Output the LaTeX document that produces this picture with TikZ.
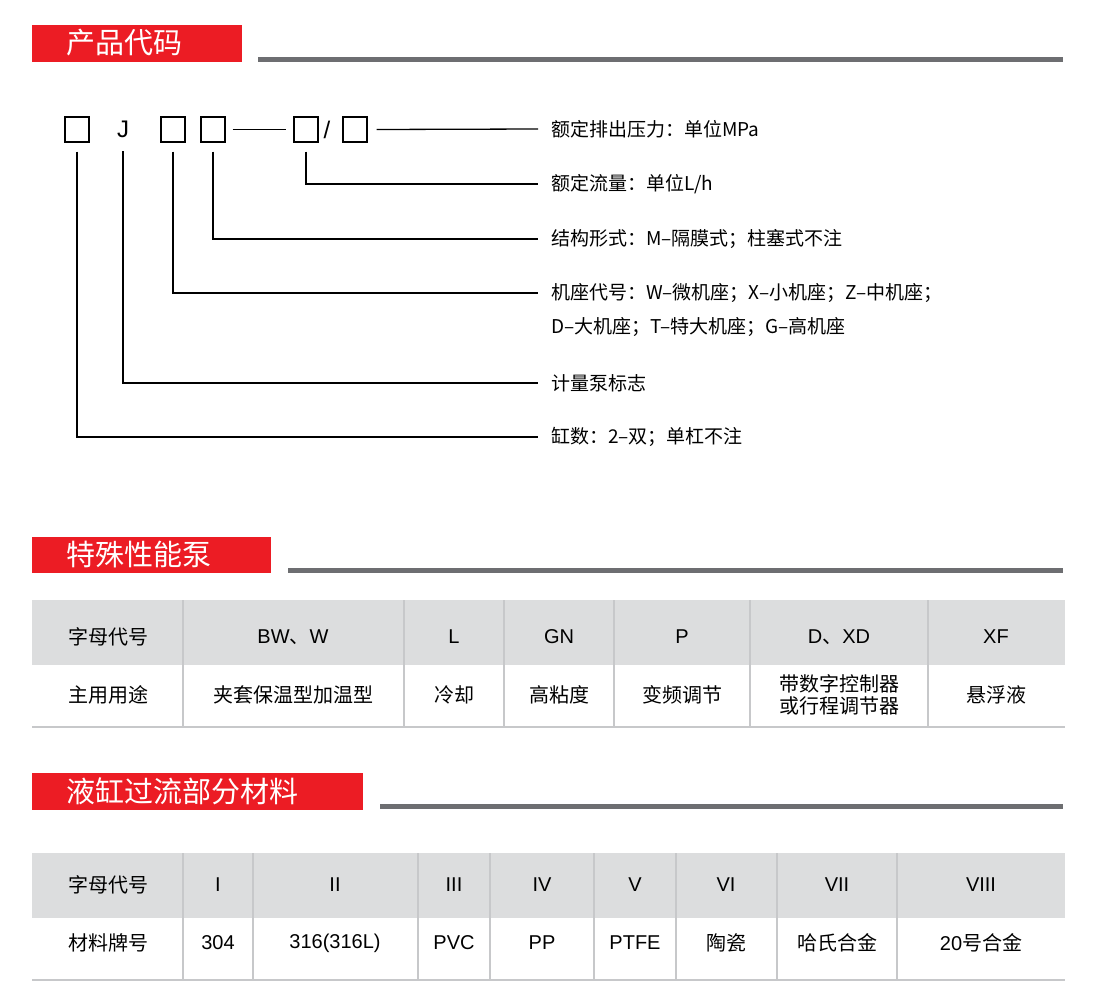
\documentclass[tikz,border=0pt]{standalone}
\usepackage{fontspec}
\setmainfont{Noto Sans CJK SC}
\newfontfamily\latn{Liberation Sans}
\definecolor{hred}{HTML}{EC1C24}
\definecolor{hline}{HTML}{6D6E71}
\definecolor{tgray}{HTML}{DCDDDE}
\definecolor{tline}{HTML}{C7C8CA}
\begin{document}
\begin{tikzpicture}[x=1pt,y=-1pt,
  title/.style={anchor=west,text=white,font=\fontsize{29}{30}\selectfont,inner sep=0},
  lab/.style={anchor=west,inner xsep=13pt,inner ysep=0,font=\fontsize{19}{20}\selectfont},
  cbox/.style={draw,line width=1.3pt,minimum width=24pt,minimum height=25pt,inner sep=0},
  conn/.style={line width=1.3pt},
  cell/.style={font=\fontsize{20}{22}\selectfont,align=center,inner sep=0}]
\useasboundingbox (0,0) rectangle (1105,993);
% headers
\fill[hred] (32,25) rectangle (242,62);
\node[title] (t1) at (66,43) {产品代码};
\fill[hline] (258,56.5) rectangle (1063,61.5);
\fill[hred] (32,537) rectangle (271,573);
\node[title] (t2) at (66,555) {特殊性能泵};
\fill[hline] (288,567.5) rectangle (1063,572.5);
\fill[hred] (32,773) rectangle (363,810);
\node[title] (t3) at (66,791) {液缸过流部分材料};
\fill[hline] (380,803.5) rectangle (1063,808.5);
% code
\node[cbox] (b1) at (77,129.5) {};
\node[font=\latn\fontsize{24}{24}\selectfont,inner sep=0] (j) at (123,129.5) {J};
\node[cbox] (b2) at (173,129.5) {};
\node[cbox] (b3) at (213,129.5) {};
\node[cbox] (b4) at (306,129.5) {};
\node[font=\latn\fontsize{24}{24}\selectfont,inner sep=0] (sl) at (327,129.5) {/};
\node[cbox] (b5) at (355,129.5) {};
\draw[conn] (b3.east) ++(7,0) coordinate (d1) -- ([xshift=-7pt]b4.west);
\node[lab] (l1) at (538,129) {额定排出压力：单位MPa};
\node[lab] (l2) at (538,184) {额定流量：单位L/h};
\node[lab] (l3) at (538,239) {结构形式：M–隔膜式；柱塞式不注};
\node[lab] (l4) at (538,293) {机座代号：W–微机座；X–小机座；Z–中机座；};
\node[lab] (l4b) at (538,327) {D–大机座；T–特大机座；G–高机座};
\node[lab] (l5) at (538,383) {计量泵标志};
\node[lab] (l6) at (538,437) {缸数：2–双；单杠不注};
\draw[conn] ([xshift=9pt]b5.east) -- (l1.west);
\draw[conn] ([yshift=-9pt]b4.south) |- (l2.west);
\draw[conn] ([yshift=-9pt]b3.south) |- (l3.west);
\draw[conn] ([yshift=-9pt]b2.south) |- (l4.west);
\draw[conn] (123,151) coordinate (jj) |- (l5.west);
\draw[conn] ([yshift=-9pt]b1.south) |- (l6.west);
% table 1
\fill[tgray] (32,600) rectangle (1065,665);
\draw[tline,line width=2pt] (32,727) -- (1065,727);
\foreach \x in {183,404,504,614,750,928} \draw[tline,line width=1.5pt] (\x,600) -- (\x,727);
\foreach \t/\x in {字母代号/108,{\latn BW}、{\latn W}/293,{\latn L}/454,{\latn GN}/559,{\latn P}/682,{\latn D}、{\latn XD}/839,{\latn XF}/996}
  \node[cell] at (\x,637) {\t};
\foreach \t/\x in {主用用途/108,夹套保温型加温型/293,冷却/454,高粘度/559,变频调节/682,带数字控制器\\或行程调节器/839,悬浮液/996}
  \node[cell] at (\x,695) {\t};
% table 2
\fill[tgray] (32,853) rectangle (1065,918);
\draw[tline,line width=2pt] (32,980) -- (1065,980);
\foreach \x in {183,253,418,490,594,676,777,897} \draw[tline,line width=1.5pt] (\x,853) -- (\x,980);
\foreach \t/\x in {字母代号/108,{\latn I}/218,{\latn II}/335,{\latn III}/454,{\latn IV}/542,{\latn V}/635,{\latn VI}/726,{\latn VII}/837,{\latn VIII}/981}
  \node[cell] at (\x,885) {\t};
\foreach \t/\x in {材料牌号/108,{\latn 304}/218,{\latn 316(316L)}/335,{\latn PVC}/454,{\latn PP}/542,{\latn PTFE}/635,陶瓷/726,哈氏合金/837,{\latn 20}号合金/981}
  \node[cell] at (\x,943) {\t};
\end{tikzpicture}
\end{document}
